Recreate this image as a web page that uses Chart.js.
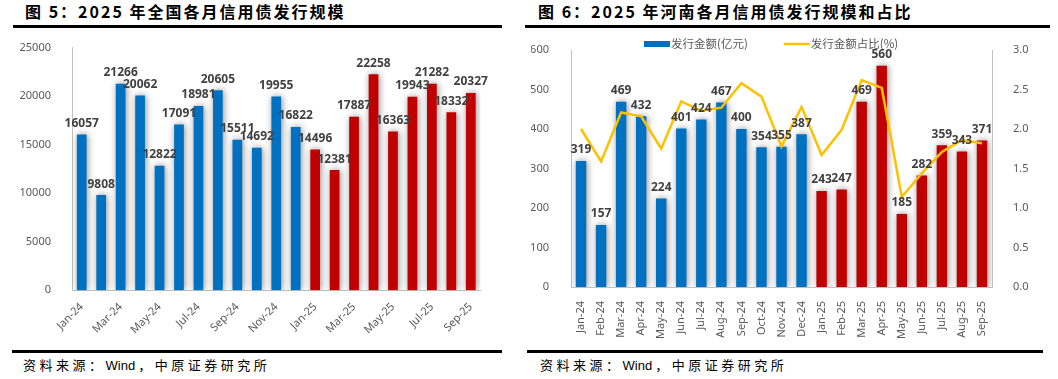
<!DOCTYPE html>
<html>
<head>
<meta charset="utf-8">
<script src="https://cdn.jsdelivr.net/npm/chart.js@4.4.1/dist/chart.umd.min.js"></script>
<style>
body { margin: 0; width: 1058px; height: 379px; background: #fff; position: relative; overflow: hidden; font-family: "Noto Sans CJK SC", sans-serif; }
.title { position: absolute; top: 1px; font-weight: 700; font-size: 16px; letter-spacing: 2px; color: #000; white-space: nowrap; line-height: 20px; }
.rule { position: absolute; height: 3px; background: #000; }
.src { position: absolute; top: 356px; font-size: 13px; letter-spacing: 3.5px; color: #000; white-space: nowrap; line-height: 18px; }
.src span { letter-spacing: 0; font-family: "Liberation Sans", Arial, sans-serif; margin-right: 3px; }
.box { position: absolute; top: 28px; }
</style>
</head>
<body>
<div class="title" style="left:25px">图 5：2025 年全国各月信用债发行规模</div>
<div class="title" style="left:538px">图 6：2025 年河南各月信用债发行规模和占比</div>
<div class="rule" style="left:13px;width:489px;top:25px"></div>
<div class="rule" style="left:525px;width:525px;top:25px"></div>
<div class="box" style="left:0px"><canvas id="chart1" width="510" height="312"></canvas></div>
<div class="box" style="left:515px"><canvas id="chart2" width="525" height="312"></canvas></div>
<div class="rule" style="left:12px;width:490px;top:350px"></div>
<div class="rule" style="left:527px;width:516px;top:350px"></div>
<div class="src" style="left:23px">资料来源：<span>Wind</span>，中原证券研究所</div>
<div class="src" style="left:540px">资料来源：<span>Wind</span>，中原证券研究所</div>
<script>
(function () {

    'use strict';

    var months = ['Jan-24', 'Feb-24', 'Mar-24', 'Apr-24', 'May-24', 'Jun-24', 'Jul-24', 'Aug-24', 'Sep-24', 'Oct-24', 'Nov-24', 'Dec-24',
        'Jan-25', 'Feb-25', 'Mar-25', 'Apr-25', 'May-25', 'Jun-25', 'Jul-25', 'Aug-25', 'Sep-25'];

    // 全国信用债发行规模（亿元）
    var nationalIssue = [16057, 9808, 21266, 20062, 12822, 17091, 18981, 20605, 15511, 14692, 19955, 16822,
        14496, 12381, 17887, 22258, 16363, 19943, 21282, 18332, 20327];

    // 河南发行金额（亿元）
    var henanIssue = [319, 157, 469, 432, 224, 401, 424, 467, 400, 354, 355, 387,
        243, 247, 469, 560, 185, 282, 359, 343, 371];

    // 河南发行金额占比（%）
    var henanShare = [2.0, 1.59, 2.21, 2.16, 1.75, 2.35, 2.23, 2.27, 2.58, 2.41, 1.78, 2.28,
        1.67, 1.99, 2.62, 2.52, 1.14, 1.44, 1.71, 1.86, 1.82];

    var leftTicks = [0, 5000, 10000, 15000, 20000, 25000];

    var blue = '#0070C0',
        red = '#C00000',
        yellow = '#FFC000',
        grey = '#595959',
        axisGrey = '#BFBFBF';

    var barColors = months.map(function (m) {
        return m.slice(-2) === '25' ? red : blue;
    });

    Chart.defaults.font.family = '"Noto Sans", "Noto Sans CJK SC", sans-serif';
    Chart.defaults.color = grey;
    Chart.defaults.animation = false;

    var barShadow = {
        id: 'barShadow',
        beforeDatasetDraw: function (chart, args) {
            if (args.meta.type !== 'bar') return;
            var ctx = chart.ctx;
            ctx.save();
            ctx.shadowColor = 'rgba(0, 0, 0, 0.45)';
            ctx.shadowBlur = 7;
            ctx.shadowOffsetX = 1;
            ctx.shadowOffsetY = 0;
        },
        afterDatasetDraw: function (chart, args) {
            if (args.meta.type !== 'bar') return;
            chart.ctx.restore();
        }
    };

    var barLabels = {
        id: 'barLabels',
        afterDatasetsDraw: function (chart) {
            var ctx = chart.ctx;
            ctx.save();
            ctx.font = 'bold 12px "Noto Sans", sans-serif';
            ctx.fillStyle = '#404040';
            ctx.textAlign = 'center';
            ctx.textBaseline = 'bottom';
            chart.data.datasets.forEach(function (ds, i) {
                var meta = chart.getDatasetMeta(i);
                if (meta.type !== 'bar') return;
                meta.data.forEach(function (bar, j) {
                    ctx.fillText(ds.data[j], bar.x, bar.y - 5);
                });
            });
            ctx.restore();
        }
    };

    var topLegend = {
        id: 'topLegend',
        beforeDatasetsDraw: function (chart) {
            var ctx = chart.ctx;
            var ds = chart.data.datasets;
            var x = 129, y = 16;
            ctx.save();
            ctx.font = '11.5px "Noto Sans CJK SC", sans-serif';
            ctx.textBaseline = 'middle';
            ctx.fillStyle = ds[0].legendColor;
            ctx.fillRect(x, y - 3, 26, 6);
            ctx.fillStyle = grey;
            ctx.fillText(ds[0].label, x + 27, y);
            x = x + 27 + ctx.measureText(ds[0].label).width + 36;
            ctx.strokeStyle = ds[1].borderColor;
            ctx.lineWidth = 2.5;
            ctx.beginPath();
            ctx.moveTo(x, y);
            ctx.lineTo(x + 26, y);
            ctx.stroke();
            ctx.fillText(ds[1].label, x + 27, y);
            ctx.restore();
        }
    };

    var ctx1 = document.getElementById('chart1').getContext('2d');
    new Chart(ctx1, {
        type: 'bar',
        data: {
            labels: months,
            datasets: [{
                label: '发行规模',
                data: nationalIssue,
                backgroundColor: barColors,
                categoryPercentage: 1,
                barPercentage: 0.5
            }]
        },
        options: {
            responsive: false,
            layout: { padding: { left: 12, right: 29.5, top: 16, bottom: 0 } },
            plugins: { legend: { display: false }, tooltip: { enabled: false } },
            scales: {
                x: {
                    grid: { display: false },
                    border: { color: axisGrey },
                    ticks: {
                        autoSkip: false,
                        minRotation: 45,
                        maxRotation: 45,
                        padding: 2,
                        font: { size: 11 },
                        callback: function (v, i) {
                            return i % 2 ? '' : months[i];
                        }
                    },
                    afterFit: function (s) { s.height = 49.7; }
                },
                y: {
                    min: leftTicks[0],
                    max: leftTicks[leftTicks.length - 1],
                    grid: { display: false },
                    border: { color: axisGrey },
                    ticks: {
                        stepSize: 5000,
                        padding: 13,
                        font: { size: 11 },
                        callback: function (v) { return String(v); }
                    },
                    afterFit: function (s) { s.width = 60; }
                }
            }
        },
        plugins: [barShadow, barLabels]
    });

    var ctx2 = document.getElementById('chart2').getContext('2d');
    new Chart(ctx2, {
        type: 'bar',
        data: {
            labels: months,
            datasets: [{
                type: 'bar',
                label: '发行金额(亿元)',
                data: henanIssue,
                backgroundColor: barColors,
                legendColor: blue,
                categoryPercentage: 1,
                barPercentage: 0.52,
                yAxisID: 'y',
                order: 1
            }, {
                type: 'line',
                label: '发行金额占比(%)',
                data: henanShare,
                borderColor: yellow,
                backgroundColor: yellow,
                borderWidth: 2.5,
                pointRadius: 0,
                tension: 0,
                fill: false,
                yAxisID: 'y1',
                order: 0
            }]
        },
        options: {
            responsive: false,
            layout: { padding: { left: 16, right: 8, top: 22, bottom: 0 } },
            plugins: { legend: { display: false }, tooltip: { enabled: false } },
            scales: {
                x: {
                    grid: { display: false },
                    border: { color: axisGrey },
                    ticks: {
                        autoSkip: false,
                        minRotation: 90,
                        maxRotation: 90,
                        padding: 6,
                        font: { size: 11 }
                    },
                    afterFit: function (s) { s.height = 53; }
                },
                y: {
                    position: 'left',
                    min: 0,
                    max: 600,
                    grid: { display: false },
                    border: { color: axisGrey },
                    ticks: { stepSize: 100, padding: 14, font: { size: 11 } },
                    afterFit: function (s) { s.width = 40; }
                },
                y1: {
                    position: 'right',
                    min: 0,
                    max: 3,
                    grid: { display: false },
                    border: { color: axisGrey },
                    ticks: {
                        stepSize: 0.5,
                        padding: 13,
                        font: { size: 11 },
                        callback: function (v) { return v.toFixed(1); }
                    },
                    afterFit: function (s) { s.width = 40; }
                }
            }
        },
        plugins: [barShadow, topLegend, barLabels]
    });

})();
</script>
</body>
</html>
